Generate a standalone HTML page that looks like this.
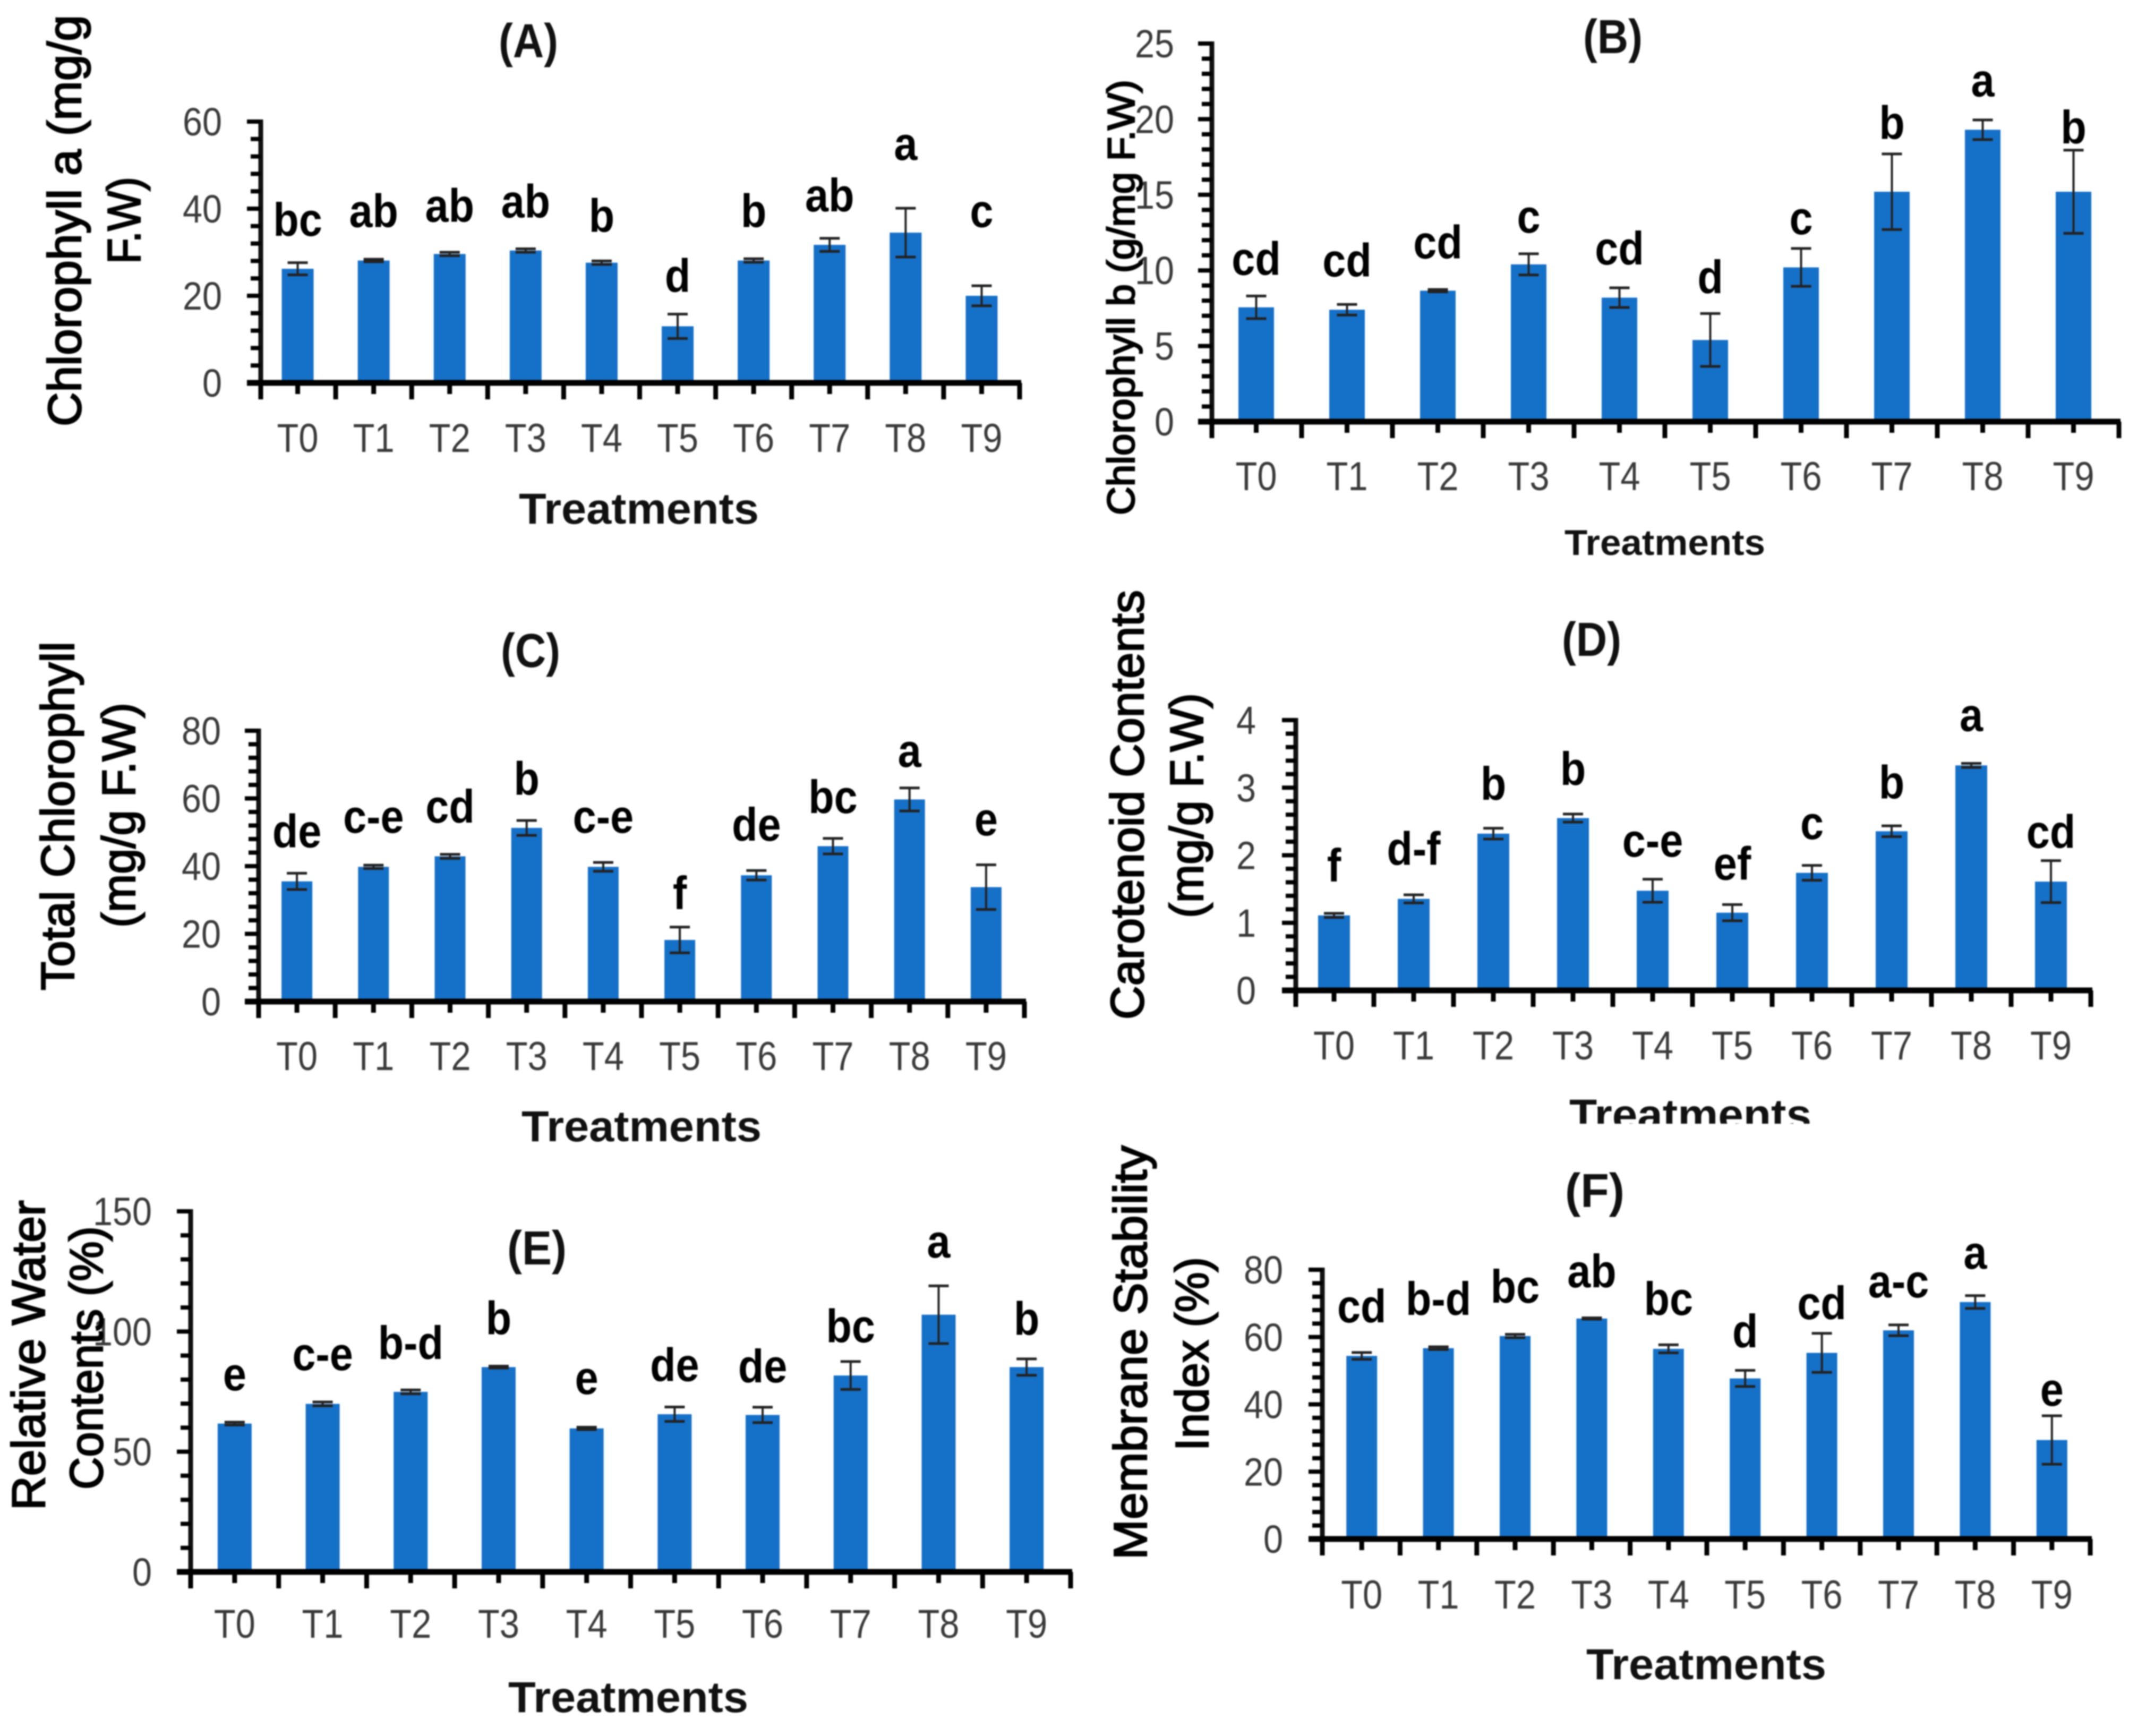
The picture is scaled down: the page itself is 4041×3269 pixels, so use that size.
<!DOCTYPE html>
<html>
<head>
<meta charset="utf-8">
<title>Treatment effects on chlorophyll, carotenoid, water content and membrane stability</title>
<style>
html,body{margin:0;padding:0;background:#fff;width:4041px;height:3269px;overflow:hidden}
svg{display:block;filter:blur(1.4px)}
text{font-family:"Liberation Sans",sans-serif}
</style>
</head>
<body>
<svg id="figure" xmlns="http://www.w3.org/2000/svg" width="4041" height="3269" viewBox="0 0 4041 3269">
<rect x="0" y="0" width="4041" height="3269" fill="#ffffff"/>
<defs><clipPath id="clip-d-xtitle"><rect x="2800" y="2040" width="800" height="76"/></clipPath></defs>
</svg>
<script>
const categories = ['T0','T1','T2','T3','T4','T5','T6','T7','T8','T9'];

const ticksA = [0,20,40,60];
const valuesA = [26.2,28.1,29.6,30.4,27.6,13,28.1,31.7,34.5,20];
const errorsA = [1.4,0.3,0.4,0.4,0.4,2.8,0.4,1.5,5.6,2.3];
const lettersA = ['bc','ab','ab','ab','b','d','b','ab','a','c'];
const letterLevelsA = [33.8,35.8,37,38,34.7,20.9,35.8,39.4,51.2,35.8];

const ticksB = [0,5,10,15,20,25];
const valuesB = [7.56,7.4,8.66,10.4,8.2,5.4,10.2,15.2,19.3,15.2];
const errorsB = [0.75,0.35,0.08,0.7,0.65,1.75,1.25,2.5,0.65,2.75];
const lettersB = ['cd','cd','cd','c','cd','d','c','b','a','b'];
const letterLevelsB = [9.7,9.6,10.8,12.5,10.4,8.5,12.4,18.7,21.5,18.4];

const ticksC = [0,20,40,60,80];
const valuesC = [35.5,39.8,42.9,51.3,39.8,18.2,37.3,45.9,59.7,33.8];
const errorsC = [2.4,0.5,0.6,2.2,1.3,3.8,1.4,2.3,3.4,6.6];
const lettersC = ['de','c-e','cd','b','c-e','f','de','bc','a','e'];
const letterLevelsC = [45.6,49.9,52.9,61.1,49.9,27.3,47.5,55.7,69.3,49.1];

const ticksD = [0,1,2,3,4];
const valuesD = [1.11,1.355,2.32,2.55,1.475,1.15,1.74,2.355,3.33,1.61];
const errorsD = [0.03,0.06,0.08,0.06,0.17,0.12,0.11,0.08,0.03,0.31];
const lettersD = ['f','d-f','b','b','c-e','ef','c','b','a','cd'];
const letterLevelsD = [1.61,1.86,2.82,3.04,1.98,1.64,2.24,2.84,3.84,2.11];

const ticksE = [0,50,100,150];
const valuesE = [61.7,69.9,74.9,85.2,59.7,65.6,65.3,81.7,107,85.2];
const errorsE = [0.6,0.8,0.8,0.4,0.5,3,3.2,5.8,12,3.4];
const lettersE = ['e','c-e','b-d','b','e','de','de','bc','a','b'];
const letterLevelsE = [75.5,84,88.6,98.9,74,79.4,78.9,95.5,130.8,98.6];

const ticksF = [0,20,40,60,80];
const valuesF = [54.4,56.7,60.3,65.5,56.5,47.7,55.3,62,70.4,29.4];
const errorsF = [1,0.4,0.5,0.2,1.2,2.4,5.8,1.6,1.9,7.2];
const lettersF = ['cd','b-d','bc','ab','bc','d','cd','a-c','a','e'];
const letterLevelsF = [64.4,66.6,70.2,74.8,66.6,57,65.3,71.8,80.3,39.6];

const NS = 'http://www.w3.org/2000/svg';
const figure = document.getElementById('figure');

function makeLine(parent, x1, y1, x2, y2, color, width) {
  const el = document.createElementNS(NS, 'line');
  el.setAttribute('x1', x1);
  el.setAttribute('y1', y1);
  el.setAttribute('x2', x2);
  el.setAttribute('y2', y2);
  el.setAttribute('stroke', color);
  el.setAttribute('stroke-width', width);
  parent.appendChild(el);
  return el;
}

function makeText(parent, str, x, y, size, weight, fill, anchor, len, rotated) {
  const el = document.createElementNS(NS, 'text');
  el.textContent = str;
  el.setAttribute('x', x);
  el.setAttribute('y', y);
  el.setAttribute('font-size', size);
  el.setAttribute('font-weight', weight);
  el.setAttribute('fill', fill);
  el.setAttribute('text-anchor', anchor);
  if (len) {
    el.setAttribute('textLength', len);
    el.setAttribute('lengthAdjust', 'spacingAndGlyphs');
  }
  if (rotated) {
    el.setAttribute('transform', 'rotate(-90 ' + x + ' ' + y + ')');
  }
  parent.appendChild(el);
  return el;
}

function drawPanel(p) {
  const panel = document.createElementNS(NS, 'g');
  
  
  figure.appendChild(panel);

  const ticks = p.ticks;
  const yMax = ticks[ticks.length - 1];
  const yScale = function (v) { return p.y0 - (v / yMax) * (p.y0 - p.yTop); };
  const band = (p.x1 - p.x0) / categories.length;
  const xCenter = function (i) { return p.x0 + (i + 0.5) * band; };

  p.values.forEach(function (v, i) {
    const bar = document.createElementNS(NS, 'rect');
    bar.setAttribute('x', xCenter(i) - p.barWidth / 2);
    bar.setAttribute('y', yScale(v));
    bar.setAttribute('width', p.barWidth);
    bar.setAttribute('height', p.y0 - yScale(v));
    bar.setAttribute('fill', '#1570c8');
    
    
    panel.appendChild(bar);
  });

  p.values.forEach(function (v, i) {
    const err = p.errors[i];
    const cx = xCenter(i);
    const group = document.createElementNS(NS, 'g');
    
    
    panel.appendChild(group);
    makeLine(group, cx, yScale(v + err), cx, yScale(v - err), '#222222', 4);
    makeLine(group, cx - 19, yScale(v + err), cx + 19, yScale(v + err), '#222222', 5);
    makeLine(group, cx - 19, yScale(v - err), cx + 19, yScale(v - err), '#222222', 5);
  });

  p.letters.forEach(function (letter, i) {
    const t = makeText(panel, letter, 0, 0, 88, 'bold', '#000000', 'middle');
    t.setAttribute('transform', 'translate(' + xCenter(i) + ' ' + yScale(p.letterLevels[i]) + ') scale(0.9 1)');
    
    
  });

  const yAxis = makeLine(panel, p.axisX, p.yTop - 4, p.axisX, p.y0 + 5, '#111111', 9);
  
  
  const xAxis = makeLine(panel, p.axisX - 26, p.y0, p.x1 + 3, p.y0, '#000000', 11);
  
  

  ticks.forEach(function (tick, i) {
    const major = makeLine(panel, p.axisX - 26, yScale(tick), p.axisX, yScale(tick), '#000000', 8);
    
    
    const str = String(tick);
    const label = makeText(panel, str, p.tickRight, yScale(tick) + 26, 74, 'normal', '#3a3a3a', 'end', str.length * 37);
    
    
    if (i < ticks.length - 1) {
      for (let m = 1; m < 5; m++) {
        const mv = tick + (ticks[i + 1] - tick) * m / 5;
        const minor = makeLine(panel, p.axisX - 19, yScale(mv), p.axisX, yScale(mv), '#000000', 8);
        
        
      }
    }
  });

  categories.forEach(function (cat, i) {
    const edgeX = i === 0 ? p.axisX : p.x0 + i * band;
    const edge = makeLine(panel, edgeX, p.y0, edgeX, p.y0 + 31, '#000000', 9);
    
    
    const mid = makeLine(panel, xCenter(i), p.y0, xCenter(i), p.y0 + 21, '#000000', 9);
    
    
    const label = makeText(panel, cat, xCenter(i), p.catBase, 76, 'normal', '#3a3a3a', 'middle', 78);
    
    
  });
  const lastEdge = makeLine(panel, p.x1, p.y0, p.x1, p.y0 + 31, '#000000', 9);
  
  

  const title = makeText(panel, p.title, p.titleX, p.titleY, 90, 'bold', '#111111', 'middle', 112);
  
  

  const xTitle = makeText(panel, 'Treatments', p.xTitleX, p.xTitleY, p.xTitleSize, 'bold', '#111111', 'middle', p.xTitleLen);
  
  
  if (p.xTitleClip) {
    xTitle.setAttribute('clip-path', 'url(#' + p.xTitleClip + ')');
  }

  p.yTitles.forEach(function (line) {
    const yt = makeText(panel, line.text, line.x, line.y, p.yTitleSize, 'normal', '#000000', 'start', line.len, true);
    yt.setAttribute('stroke', '#000000');
    yt.setAttribute('stroke-width', '2.4');
    
    
  });
}

drawPanel({
  id: 'a', title: '(A)', ticks: ticksA, values: valuesA, errors: errorsA, letters: lettersA, letterLevels: letterLevelsA,
  axisX: 491, x0: 489, x1: 1920, y0: 721, yTop: 229, barWidth: 60, tickRight: 418, catBase: 851,
  titleX: 995, titleY: 108, xTitleX: 1203, xTitleY: 986, xTitleSize: 82, xTitleLen: 452, yTitleSize: 88,
  yTitles: [
    { text: 'Chlorophyll a (mg/g', x: 152, y: 803, len: 775 },
    { text: 'F.W)', x: 264, y: 497, len: 164 }
  ]
});
drawPanel({
  id: 'b', title: '(B)', ticks: ticksB, values: valuesB, errors: errorsB, letters: lettersB, letterLevels: letterLevelsB,
  axisX: 2282, x0: 2280, x1: 3990, y0: 794, yTop: 82, barWidth: 67, tickRight: 2211, catBase: 923,
  titleX: 3037, titleY: 100, xTitleX: 3135, xTitleY: 1045, xTitleSize: 68, xTitleLen: 378, yTitleSize: 72,
  yTitles: [
    { text: 'Chlorophyll b (g/mg F.W)', x: 2136, y: 970, len: 820 }
  ]
});
drawPanel({
  id: 'c', title: '(C)', ticks: ticksC, values: valuesC, errors: errorsC, letters: lettersC, letterLevels: letterLevelsC,
  axisX: 487, x0: 487, x1: 1929, y0: 1886, yTop: 1376, barWidth: 58, tickRight: 416, catBase: 2015,
  titleX: 999, titleY: 1256, xTitleX: 1208, xTitleY: 2149, xTitleSize: 82, xTitleLen: 452, yTitleSize: 88,
  yTitles: [
    { text: 'Total Chlorophyll', x: 139, y: 1865, len: 657 },
    { text: '(mg/g F.W)', x: 254, y: 1747, len: 424 }
  ]
});
drawPanel({
  id: 'd', title: '(D)', ticks: ticksD, values: valuesD, errors: errorsD, letters: lettersD, letterLevels: letterLevelsD,
  axisX: 2440, x0: 2437, x1: 3937, y0: 1865, yTop: 1356, barWidth: 60, tickRight: 2365, catBase: 1995,
  titleX: 2997, titleY: 1235, xTitleX: 3183, xTitleY: 2127, xTitleSize: 82, xTitleLen: 456, xTitleClip: 'clip-d-xtitle', yTitleSize: 88,
  yTitles: [
    { text: 'Carotenoid Contents', x: 2153, y: 1920, len: 809 },
    { text: '(mg/g F.W)', x: 2265, y: 1729, len: 424 }
  ]
});
drawPanel({
  id: 'e', title: '(E)', ticks: ticksE, values: valuesE, errors: errorsE, letters: lettersE, letterLevels: letterLevelsE,
  axisX: 359, x0: 359, x1: 2016, y0: 2960, yTop: 2281, barWidth: 64, tickRight: 286, catBase: 3084,
  titleX: 1011, titleY: 2381, xTitleX: 1183, xTitleY: 3224, xTitleSize: 82, xTitleLen: 452, yTitleSize: 88,
  yTitles: [
    { text: 'Relative Water', x: 84, y: 2844, len: 584 },
    { text: 'Contents (%)', x: 193, y: 2805, len: 496 }
  ]
});
drawPanel({
  id: 'f', title: '(F)', ticks: ticksF, values: valuesF, errors: errorsF, letters: lettersF, letterLevels: letterLevelsF,
  axisX: 2490, x0: 2492, x1: 3936, y0: 2898, yTop: 2391, barWidth: 58, tickRight: 2416, catBase: 3029,
  titleX: 3003, titleY: 2273, xTitleX: 3213, xTitleY: 3162, xTitleSize: 82, xTitleLen: 452, yTitleSize: 88,
  yTitles: [
    { text: 'Membrane Stability', x: 2159, y: 2937, len: 780 },
    { text: 'Index (%)', x: 2275, y: 2732, len: 365 }
  ]
});
</script>
</body>
</html>
